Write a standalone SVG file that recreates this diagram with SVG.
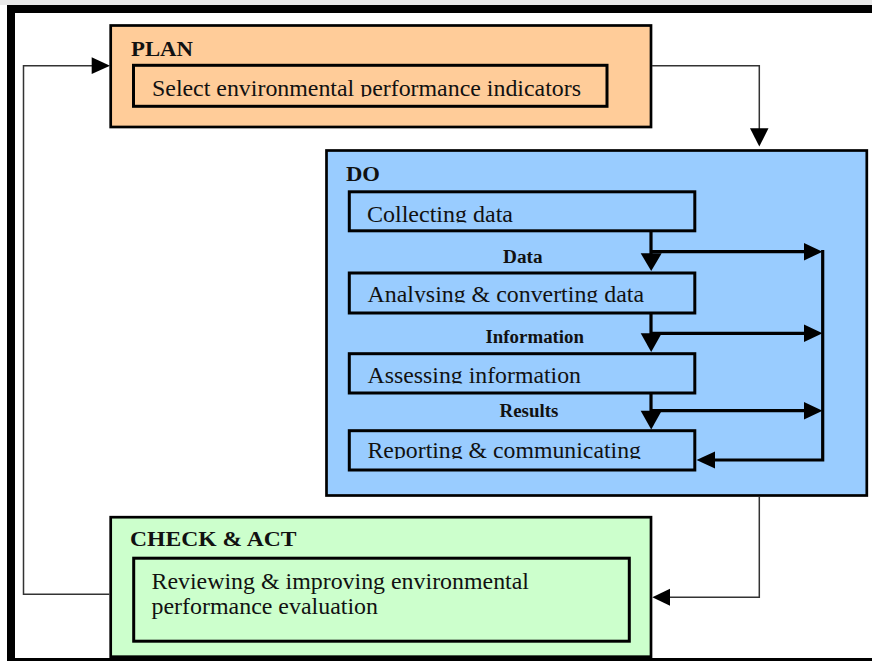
<svg xmlns="http://www.w3.org/2000/svg" width="872" height="661" viewBox="0 0 872 661">
<style>
  .box{stroke:#000;stroke-width:2.7}
  .inner{fill:none;stroke:#000;stroke-width:3}
  .plan{fill:#FFCC99}
  .do{fill:#99CCFF}
  .chk{fill:#CCFFCC}
  .head{font-family:"Liberation Serif","Times New Roman",serif;font-weight:bold;font-size:22px;fill:#111}
  .txt{font-family:"Liberation Serif","Times New Roman",serif;font-size:23.5px;fill:#111}
  .lbl{font-family:"Liberation Serif","Times New Roman",serif;font-weight:bold;font-size:18px;fill:#111}
  .thin{fill:none;stroke:#333;stroke-width:1.5}
  .thick{fill:none;stroke:#000;stroke-width:3.2}
  .ah{fill:#000}
</style>
<defs>
  <clipPath id="cPlan"><rect x="135" y="60" width="470" height="36.8"/></clipPath>
  <clipPath id="cCol"><rect x="351" y="193" width="342" height="29.5"/></clipPath>
  <clipPath id="cAna"><rect x="351" y="275" width="342" height="27.5"/></clipPath>
  <clipPath id="cAss"><rect x="351" y="355" width="342" height="28.5"/></clipPath>
  <clipPath id="cRep"><rect x="351" y="432" width="342" height="27"/></clipPath>
</defs>
<rect x="0" y="0" width="872" height="661" fill="#fff"/>
<rect x="0" y="0" width="872" height="5" fill="#e9e9e9"/>
<rect id="frame" x="11" y="9" width="880" height="653" fill="none" stroke="#000" stroke-width="8"/>

<g id="plan">
  <rect class="box plan" x="110.7" y="25.5" width="540.3" height="101.5"/>
  <text class="head" x="131" y="56" textLength="62" lengthAdjust="spacingAndGlyphs">PLAN</text>
  <g id="plan-select">
    <rect class="inner" x="133.5" y="65.3" width="473.5" height="41"/>
    <text class="txt" x="152" y="95.5" textLength="429" lengthAdjust="spacingAndGlyphs" clip-path="url(#cPlan)">Select environmental performance indicators</text>
  </g>
</g>

<g id="do">
  <rect class="box do" x="326.5" y="150.5" width="540.3" height="345"/>
  <text class="head" x="346" y="181" textLength="34" lengthAdjust="spacingAndGlyphs">DO</text>
  <g id="collecting">
    <rect class="inner" x="349.3" y="191.8" width="345.5" height="39"/>
    <text class="txt" x="367" y="221.5" textLength="146" lengthAdjust="spacingAndGlyphs" clip-path="url(#cCol)">Collecting data</text>
  </g>
  <g id="analysing">
    <rect class="inner" x="349.3" y="273" width="345.5" height="40"/>
    <text class="txt" x="367.5" y="301.5" textLength="276.5" lengthAdjust="spacingAndGlyphs" clip-path="url(#cAna)">Analysing &amp; converting data</text>
  </g>
  <g id="assessing">
    <rect class="inner" x="349.3" y="353.7" width="345.5" height="39.3"/>
    <text class="txt" x="367.5" y="382.5" textLength="213.5" lengthAdjust="spacingAndGlyphs" clip-path="url(#cAss)">Assessing information</text>
  </g>
  <g id="reporting">
    <rect class="inner" x="349.3" y="430.7" width="345.5" height="39.3"/>
    <text class="txt" x="367.5" y="458" textLength="273.5" lengthAdjust="spacingAndGlyphs" clip-path="url(#cRep)">Reporting &amp; communicating</text>
  </g>
</g>

<g id="check-act">
  <rect class="box chk" x="110.7" y="517.2" width="540.3" height="139.5"/>
  <text class="head" x="130" y="546" textLength="166.5" lengthAdjust="spacingAndGlyphs">CHECK &amp; ACT</text>
  <g id="reviewing">
    <rect class="inner" x="133.7" y="558.2" width="495.6" height="83"/>
    <text class="txt" x="151.5" y="588.7" textLength="377.5" lengthAdjust="spacingAndGlyphs">Reviewing &amp; improving environmental</text>
    <text class="txt" x="151.5" y="614.3" textLength="226.5" lengthAdjust="spacingAndGlyphs">performance evaluation</text>
  </g>
</g>

<g id="connectors">
  <!-- PLAN to DO -->
  <polyline class="thin" points="652,65.7 759.3,65.7 759.3,130"/>
  <polygon class="ah" points="750,128.3 768.5,128.3 759.3,146.5"/>
  <!-- CHECK back to PLAN -->
  <polyline class="thin" points="109.5,594.3 23.5,594.3 23.5,65.7 93,65.7"/>
  <polygon class="ah" points="91.7,57.3 91.7,74 110,65.7"/>
  <!-- DO to CHECK -->
  <polyline class="thin" points="759.3,497 759.3,597.3 668,597.3"/>
  <polygon class="ah" points="670,588.8 670,605.8 652.3,597.3"/>
  <!-- inner DO flow -->
  <line class="thick" x1="651" y1="231" x2="651" y2="256"/>
  <polygon class="ah" points="640.7,253.3 661.7,253.3 651.2,271"/>
  <line class="thick" x1="651" y1="313" x2="651" y2="336"/>
  <polygon class="ah" points="640.7,333.3 661.7,333.3 651.2,352"/>
  <line class="thick" x1="651" y1="393" x2="651" y2="413"/>
  <polygon class="ah" points="640.7,410.7 661.7,410.7 651.2,429.5"/>
  <line class="thick" x1="651" y1="251.7" x2="806" y2="251.7"/>
  <polygon class="ah" points="804,243 804,260.5 822.5,251.7"/>
  <line class="thick" x1="651" y1="333.3" x2="806" y2="333.3"/>
  <polygon class="ah" points="804,324.6 804,342 822.5,333.3"/>
  <line class="thick" x1="651" y1="410.7" x2="806" y2="410.7"/>
  <polygon class="ah" points="804,402 804,419.4 822.5,410.7"/>
  <polyline class="thick" points="822.7,250.1 822.7,460 712,460"/>
  <polygon class="ah" points="715,451.5 715,468.5 696.5,460"/>
  <text class="lbl" x="503" y="263.3" textLength="39.5" lengthAdjust="spacingAndGlyphs">Data</text>
  <text class="lbl" x="485.5" y="342.7" textLength="98.5" lengthAdjust="spacingAndGlyphs">Information</text>
  <text class="lbl" x="499.6" y="417.3" textLength="58.8" lengthAdjust="spacingAndGlyphs">Results</text>
</g>
</svg>
